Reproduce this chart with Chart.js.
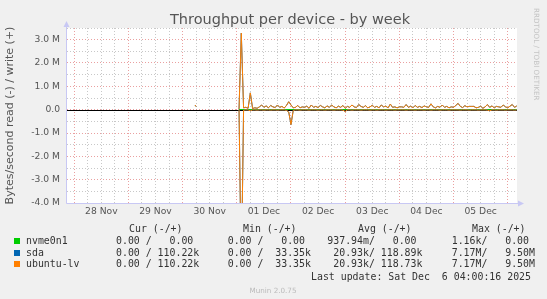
<!DOCTYPE html>
<html>
<head>
<meta charset="utf-8">
<title>Throughput per device - by week</title>
<script src="https://cdn.jsdelivr.net/npm/chart.js@4.4.1/dist/chart.umd.min.js"></script>
<style>
    body { margin: 0; background: #f0f0f0; }
    #graph { position: relative; width: 547px; height: 299px; overflow: hidden; background: #f0f0f0; }
    #graph canvas { position: absolute; left: 0; top: 0; }
    .txt { position: absolute; white-space: pre; line-height: 1; }
    .title { left: 0; width: 580px; top: 12px; text-align: center; font-family: "DejaVu Sans"; font-size: 14.5px; color: #555; }
    .mono { font-family: "DejaVu Sans Mono"; font-size: 9.9px; color: #333; }
    .sq { position: absolute; left: 14px; width: 6px; height: 6px; }
    .credit { left: 533px; top: 8px; writing-mode: vertical-rl; font-family: "DejaVu Sans"; font-size: 7.2px; color: #c4c4c4; }
    .munin { left: 0; width: 546px; top: 287px; text-align: center; font-family: "DejaVu Sans"; font-size: 7.2px; color: #bbb; }
</style>
</head>
<body>
<div id="graph">
    <canvas id="throughput" width="547" height="299"></canvas>
    <div class="txt title">Throughput per device - by week</div>
    <div class="txt credit">RRDTOOL / TOBI OETIKER</div>

    <div class="txt mono" style="left:129px; top:223.5px">Cur (-/+)</div>
    <div class="txt mono" style="left:243px; top:223.5px">Min (-/+)</div>
    <div class="txt mono" style="left:358px; top:223.5px">Avg (-/+)</div>
    <div class="txt mono" style="left:472px; top:223.5px">Max (-/+)</div>

    <div class="sq" style="top:238px; background:#00cc00"></div>
    <div class="txt mono" style="left:26px; top:235.8px">nvme0n1</div>
    <div class="txt mono" style="left:116px; top:235.8px">0.00 /   0.00</div>
    <div class="txt mono" style="left:227.7px; top:235.8px">0.00 /   0.00</div>
    <div class="txt mono" style="left:327.3px; top:235.8px">937.94m/   0.00</div>
    <div class="txt mono" style="left:451.7px; top:235.8px">1.16k/   0.00</div>

    <div class="sq" style="top:249.5px; background:#0066b3"></div>
    <div class="txt mono" style="left:26px; top:247.5px">sda</div>
    <div class="txt mono" style="left:116px; top:247.5px">0.00 / 110.22k</div>
    <div class="txt mono" style="left:227.7px; top:247.5px">0.00 /  33.35k</div>
    <div class="txt mono" style="left:327.3px; top:247.5px"> 20.93k/ 118.89k</div>
    <div class="txt mono" style="left:451.7px; top:247.5px">7.17M/   9.50M</div>

    <div class="sq" style="top:261px; background:#ff8000"></div>
    <div class="txt mono" style="left:26px; top:259px">ubuntu-lv</div>
    <div class="txt mono" style="left:116px; top:259px">0.00 / 110.22k</div>
    <div class="txt mono" style="left:227.7px; top:259px">0.00 /  33.35k</div>
    <div class="txt mono" style="left:327.3px; top:259px"> 20.93k/ 118.73k</div>
    <div class="txt mono" style="left:451.7px; top:259px">7.17M/   9.50M</div>

    <div class="txt mono" style="left:311px; top:271.5px">Last update: Sat Dec  6 04:00:16 2025</div>
    <div class="txt munin">Munin 2.0.75</div>
</div>

<script>
// x values are hours since 28 Nov 00:00
const dayLabels = ['28 Nov', '29 Nov', '30 Nov', '01 Dec', '02 Dec', '03 Dec', '04 Dec', '05 Dec'];
const yTickValues = [-4, -3, -2, -1, 0, 1, 2, 3];
const yTickLabels = ['-4.0 M', '-3.0 M', '-2.0 M', '-1.0 M', '0.0', '1.0 M', '2.0 M', '3.0 M'];

// short blip on 30 Nov before the regular data starts
const earlyHours = [53.5, 54];
const earlyWrite = [0.2, 0.13];

// hourly samples, MB/s, starting at firstHour
const firstHour = 73;
const sdaWrite = [
    0.03, 3.28, 0.08, 0.1, 0.06, 0.72, 0.05, 0.08, 0.06, 0.12, 0.2, 0.1, 0.16,
    0.08, 0.18, 0.12, 0.09, 0.2, 0.1, 0.14, 0.07, 0.18, 0.34, 0.2, 0.08,
    0.1, 0.18, 0.08, 0.12, 0.1, 0.15, 0.06, 0.2, 0.1, 0.14, 0.09, 0.18,
    0.12, 0.08, 0.16, 0.1, 0.2, 0.12, 0.08, 0.15, 0.1, 0.18, 0.06, 0.14,
    0.1, 0.2, 0.12, 0.09, 0.22, 0.14, 0.1, 0.17, 0.08, 0.12, 0.19, 0.1,
    0.14, 0.08, 0.2, 0.12, 0.15, 0.08, 0.24, 0.1, 0.12, 0.08, 0.12, 0.12,
    0.1, 0.22, 0.1, 0.15, 0.08, 0.18, 0.1, 0.14, 0.09, 0.16, 0.12, 0.1,
    0.25, 0.12, 0.08, 0.14, 0.1, 0.2, 0.1, 0.14, 0.08, 0.12, 0.1, 0.18,
    0.27, 0.14, 0.09, 0.17, 0.12, 0.14, 0.14, 0.14, 0.08, 0.1, 0.15, 0.06,
    0.12, 0.22, 0.1, 0.16, 0.08, 0.14, 0.12, 0.1, 0.2, 0.12, 0.08, 0.15,
    0.22, 0.1, 0.16
];
const sdaRead = [
    0.02, 7.17, 0.02, 0.01, 0.01, 0.05, 0.01, 0.01, 0.02, 0.01, 0.01, 0.02, 0.01,
    0.01, 0.02, 0.01, 0.01, 0.02, 0.01, 0.01, 0.01, 0.03, 0.1, 0.64, 0.03,
    0.01, 0.01, 0.02, 0.01, 0.01, 0.01, 0.02, 0.01, 0.01, 0.01, 0.02, 0.01,
    0.01, 0.02, 0.01, 0.01, 0.01, 0.02, 0.01, 0.01, 0.01, 0.02, 0.08, 0.01,
    0.01, 0.02, 0.01, 0.01, 0.01, 0.02, 0.01, 0.01, 0.01, 0.02, 0.01, 0.01,
    0.02, 0.01, 0.01, 0.01, 0.02, 0.01, 0.01, 0.01, 0.02, 0.01, 0.01, 0.01,
    0.01, 0.02, 0.01, 0.01, 0.01, 0.02, 0.01, 0.01, 0.01, 0.02, 0.01, 0.01,
    0.02, 0.01, 0.01, 0.01, 0.02, 0.01, 0.01, 0.01, 0.02, 0.01, 0.01, 0.01,
    0.01, 0.02, 0.01, 0.01, 0.01, 0.02, 0.01, 0.01, 0.01, 0.02, 0.01, 0.01,
    0.01, 0.02, 0.05, 0.01, 0.01, 0.02, 0.01, 0.01, 0.01, 0.02, 0.01, 0.01,
    0.01, 0.02, 0.01
];
// ubuntu-lv lives on sda, both lines coincide on the graph
const lvWrite = sdaWrite;
const lvRead = sdaRead;
// nvme0n1 stays flat at zero
const nvmeHours = [73, 196];
const nvmeWrite = [0, 0];
const nvmeRead = [0, 0];

const RED_GRID = 'rgba(225, 120, 120, 0.7)';
const GREY_GRID = 'rgba(190, 190, 190, 0.85)';
const AXIS = '#c8c8f4';

function hourly(values, sign, withEarly) {
    var pts = [];
    if (withEarly) {
        earlyHours.forEach(function (h, i) {
            pts.push({ x: h, y: earlyWrite[i] });
        });
        pts.push({ x: earlyHours[earlyHours.length - 1] + 0.5, y: null });
    }
    values.forEach(function (v, i) {
        pts.push({ x: firstHour + i, y: sign * v });
    });
    return pts;
}

function pairs(hours, values, sign) {
    return hours.map(function (h, i) { return { x: h, y: sign * values[i] }; });
}

var muninPlugin = {
    id: 'munin',
    beforeDraw: function (chart) {
        var a = chart.chartArea, ctx = chart.ctx;
        ctx.save();
        ctx.fillStyle = '#f0f0f0';
        ctx.fillRect(0, 0, chart.width, chart.height);
        ctx.fillStyle = '#ffffff';
        ctx.fillRect(a.left, a.top, a.right - a.left, a.bottom - a.top);
        ctx.restore();
    },
    beforeDatasetsDraw: function (chart) {
        var a = chart.chartArea, ctx = chart.ctx;
        var x0 = Math.round(a.left) - 0.5, y0 = Math.round(a.bottom) + 0.5;
        ctx.save();
        ctx.strokeStyle = AXIS;
        ctx.fillStyle = AXIS;
        ctx.lineWidth = 1;
        ctx.beginPath();
        ctx.moveTo(x0, y0);
        ctx.lineTo(x0, a.top - 2);
        ctx.moveTo(x0, y0);
        ctx.lineTo(a.right + 2, y0);
        ctx.stroke();
        // arrow heads
        ctx.beginPath();
        ctx.moveTo(x0, a.top - 7);
        ctx.lineTo(x0 - 3, a.top - 1);
        ctx.lineTo(x0 + 3, a.top - 1);
        ctx.closePath();
        ctx.fill();
        ctx.beginPath();
        ctx.moveTo(a.right + 7, y0);
        ctx.lineTo(a.right + 1, y0 - 3);
        ctx.lineTo(a.right + 1, y0 + 3);
        ctx.closePath();
        ctx.fill();
        ctx.restore();
    },
    afterDatasetDraw: function (chart, args) {
        if (chart.data.datasets[args.index].label !== 'nvme0n1 write') return;
        var a = chart.chartArea, ctx = chart.ctx;
        var y = Math.round(chart.scales.y.getPixelForValue(0)) + 0.5;
        ctx.save();
        ctx.strokeStyle = '#000000';
        ctx.lineWidth = 1;
        ctx.beginPath();
        ctx.moveTo(a.left, y);
        ctx.lineTo(a.right, y);
        ctx.stroke();
        ctx.restore();
    }
};

var ctx = document.getElementById('throughput').getContext('2d');

var myChart = new Chart(ctx, {
    type: 'line',
    data: {
        datasets: [
            { label: 'nvme0n1 read', data: pairs(nvmeHours, nvmeRead, -1), borderColor: '#00cc00', order: 5 },
            { label: 'nvme0n1 write', data: pairs(nvmeHours, nvmeWrite, 1), borderColor: '#00cc00', order: 4 },
            { label: 'sda read', data: hourly(sdaRead, -1, false), borderColor: '#0066b3', order: 3 },
            { label: 'sda write', data: hourly(sdaWrite, 1, true), borderColor: '#0066b3', order: 2 },
            { label: 'ubuntu-lv read', data: hourly(lvRead, -1, false), borderColor: '#ff8000', order: 1 },
            { label: 'ubuntu-lv write', data: hourly(lvWrite, 1, true), borderColor: '#ff8000', order: 0 }
        ]
    },
    options: {
        responsive: false,
        animation: false,
        layout: { padding: { left: 0, right: 30, top: 28, bottom: 0 } },
        elements: {
            point: { radius: 0 },
            line: { tension: 0, borderWidth: 1, fill: false }
        },
        plugins: {
            legend: { display: false },
            tooltip: { enabled: false },
            title: { display: false }
        },
        scales: {
            x: {
                type: 'linear',
                min: -3.2,
                max: 196.1,
                afterFit: function (scale) { scale.height = 96; },
                afterBuildTicks: function (scale) {
                    var ticks = [];
                    for (var h = 0; h <= 192; h += 6) ticks.push({ value: h });
                    scale.ticks = ticks;
                },
                ticks: {
                    autoSkip: false,
                    maxRotation: 0,
                    padding: 3,
                    color: '#555',
                    font: { family: 'DejaVu Sans', size: 9.2 },
                    callback: function (value) {
                        return value % 24 === 12 ? dayLabels[(value - 12) / 24] : '';
                    }
                },
                grid: {
                    drawTicks: false,
                    color: function (c) {
                        return c.tick && c.tick.value % 24 === 0 ? RED_GRID : GREY_GRID;
                    }
                },
                border: { display: false, dash: [1, 2] }
            },
            y: {
                min: -4,
                max: 3.5,
                afterFit: function (scale) { scale.width = 67; },
                afterBuildTicks: function (scale) {
                    var ticks = [];
                    for (var v = -4; v <= 3.5; v += 0.5) ticks.push({ value: v });
                    scale.ticks = ticks;
                },
                ticks: {
                    autoSkip: false,
                    padding: 7,
                    color: '#555',
                    font: { family: 'DejaVu Sans', size: 9.2 },
                    callback: function (value) {
                        var i = yTickValues.indexOf(value);
                        return i >= 0 ? yTickLabels[i] : '';
                    }
                },
                grid: {
                    drawTicks: false,
                    color: function (c) {
                        return c.tick && Number.isInteger(c.tick.value) ? RED_GRID : GREY_GRID;
                    }
                },
                border: { display: false, dash: [1, 2] },
                title: {
                    display: true,
                    text: 'Bytes/second read (-) / write (+)',
                    color: '#555',
                    font: { family: 'DejaVu Sans', size: 11 },
                    padding: { top: 4, bottom: 0 }
                }
            }
        }
    },
    plugins: [muninPlugin]
});
</script>
</body>
</html>
